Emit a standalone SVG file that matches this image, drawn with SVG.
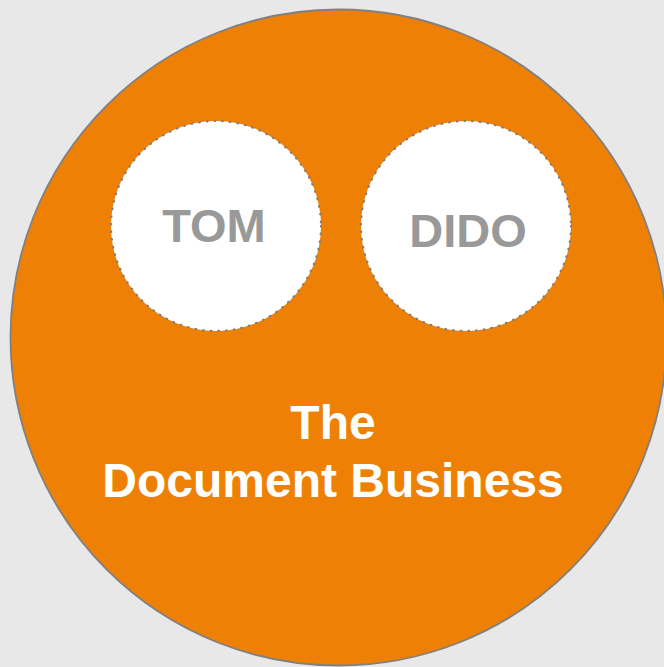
<svg xmlns="http://www.w3.org/2000/svg" width="664" height="667" viewBox="0 0 664 667">
<style>
.lbl{font-family:"Liberation Sans",Arial,sans-serif;font-weight:bold;text-anchor:middle}
.inner{fill:#ffffff;stroke:#7f7f7f;stroke-width:2.2;stroke-dasharray:0.6 7.1;stroke-linecap:round}
.gray{fill:#999999;font-size:47px}
.white{fill:#ffffff;font-size:48px}
</style>
<rect width="664" height="667" fill="#e8e8e8"/>
<g id="business">
<circle cx="338.5" cy="337.5" r="328" fill="#ee8006" stroke="#808080" stroke-width="1.8"/>
<text class="lbl white" x="333" y="439">The</text>
<text class="lbl white" x="333" y="497">Document Business</text>
</g>
<g id="tom">
<circle class="inner" cx="216" cy="226" r="105"/>
<text class="lbl gray" x="214" y="242">TOM</text>
</g>
<g id="dido">
<circle class="inner" cx="466" cy="226" r="105"/>
<text class="lbl gray" x="468" y="247">DIDO</text>
</g>
<g id="connectors"/>
</svg>
